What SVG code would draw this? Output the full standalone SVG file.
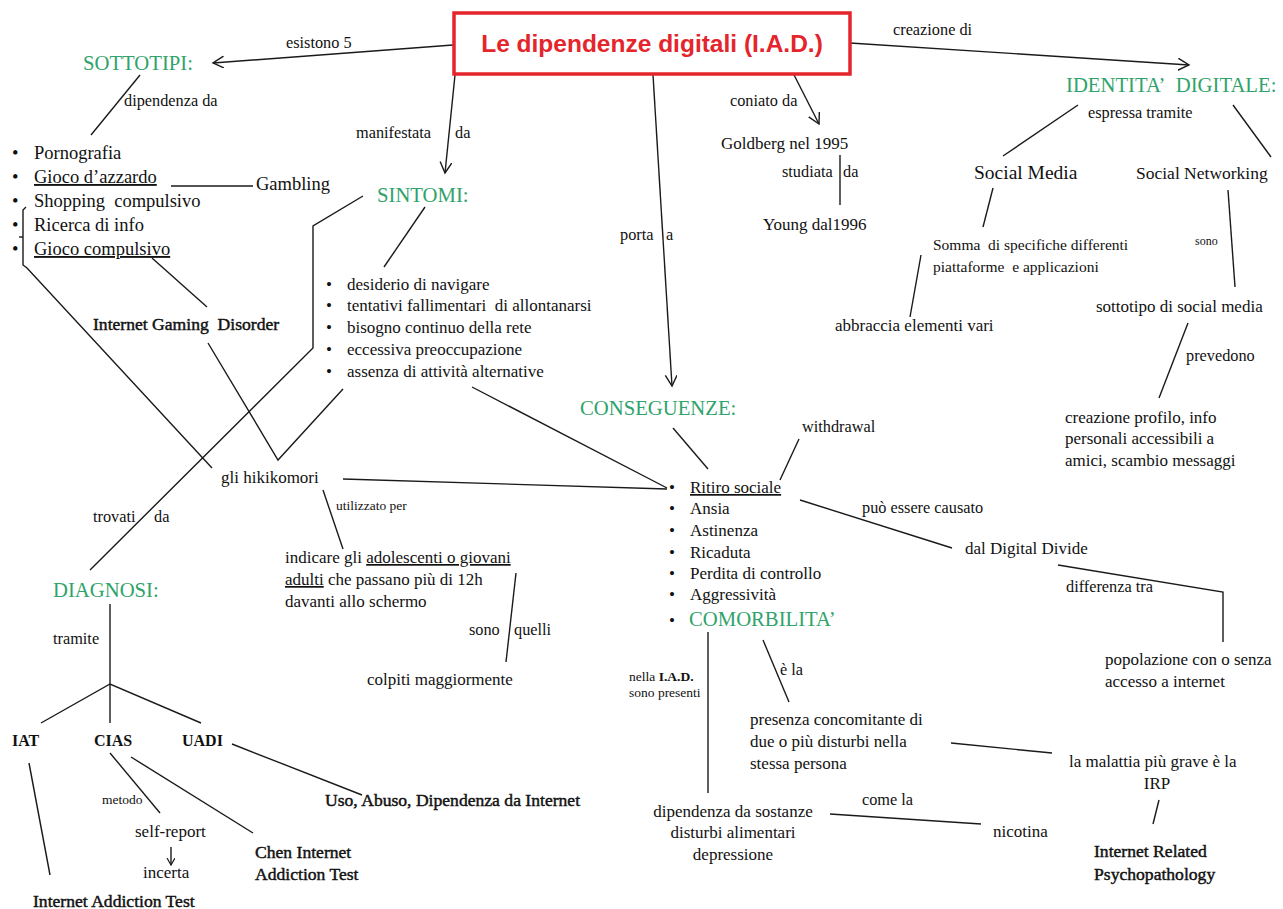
<svg xmlns="http://www.w3.org/2000/svg" width="1283" height="909" viewBox="0 0 1283 909">
<defs>
<style>
text{font-family:"Liberation Serif","Times New Roman",serif;fill:#111;}
.b{font-size:17px}
.st{font-size:18.5px}
.lb{font-size:16.3px}
.sm{font-size:13.5px}
.xs{font-size:12px}
.g{font-size:20.7px;fill:#2fa36b}
.bd{font-weight:bold;font-size:16px}
.md{font-size:17.6px;stroke:#111;stroke-width:0.45px}
.u{text-decoration:underline}
.ln{stroke:#1a1a1a;stroke-width:1.4;fill:none}
.title{font-family:"Liberation Sans",Arial,sans-serif;font-weight:bold;font-size:24.5px;fill:#e4252b}
</style>
<marker id="ah" markerUnits="userSpaceOnUse" markerWidth="14" markerHeight="14" refX="11" refY="6" orient="auto">
<path d="M0,0 L11,6 L0,12" fill="none" stroke="#1a1a1a" stroke-width="1.4"/>
</marker>
<marker id="ahs" markerUnits="userSpaceOnUse" markerWidth="10" markerHeight="10" refX="7" refY="4" orient="auto">
<path d="M0,0 L7,4 L0,8" fill="none" stroke="#1a1a1a" stroke-width="1.2"/>
</marker>
</defs>
<rect width="1283" height="909" fill="#fff"/>

<g id="connectors">
<path class="ln" d="M453,45 L213,63" marker-end="url(#ah)"/>
<path class="ln" d="M455,75 L445,173" marker-end="url(#ah)"/>
<path class="ln" d="M653,75 L672,386" marker-end="url(#ah)"/>
<path class="ln" d="M789,65 L819,124" marker-end="url(#ah)"/>
<path class="ln" d="M850,43 L1189,65" marker-end="url(#ah)"/>
<path class="ln" d="M140,75 L91,135"/>
<path class="ln" d="M171,186 L253,186"/>
<path class="ln" d="M26,207 L23,210 L23,265 L27,268 L212,468"/>
<path class="ln" d="M19,237 L23,237"/>
<path class="ln" d="M152,258 L207,307"/>
<path class="ln" d="M208,343 L278,460 L343,389"/>
<path class="ln" d="M363,196 L313,226 L313,348 L90,570"/>
<path class="ln" d="M425,207 L384,267"/>
<path class="ln" d="M472,387 L667,488"/>
<path class="ln" d="M343,479 L667,489"/>
<path class="ln" d="M323,490 L343,549"/>
<path class="ln" d="M516,573 L506,662"/>
<path class="ln" d="M110,604 L110,723"/>
<path class="ln" d="M41,723 L110,684 L201,723"/>
<path class="ln" d="M29,763 L50,875"/>
<path class="ln" d="M110,753 L160,813"/>
<path class="ln" d="M131,757 L253,833"/>
<path class="ln" d="M232,744 L362,795"/>
<path class="ln" d="M171,847 L171,865" marker-end="url(#ahs)"/>
<path class="ln" d="M840,155 L840,205"/>
<path class="ln" d="M1078,105 L1003,156"/>
<path class="ln" d="M1233,105 L1271,157"/>
<path class="ln" d="M993,188 L983,227"/>
<path class="ln" d="M921,255 L910,317"/>
<path class="ln" d="M1228,190 L1235,287"/>
<path class="ln" d="M1188,323 L1159,398"/>
<path class="ln" d="M673,428 L708,469"/>
<path class="ln" d="M799,439 L780,480"/>
<path class="ln" d="M800,500 L952,548"/>
<path class="ln" d="M1058,565 L1223,592 L1223,642"/>
<path class="ln" d="M708,632 L708,793"/>
<path class="ln" d="M763,640 L789,702"/>
<path class="ln" d="M951,743 L1052,753"/>
<path class="ln" d="M1159,800 L1153,824"/>
<path class="ln" d="M830,814 L981,824"/>
</g>

<g id="labels">
<text class="lb" x="286" y="48">esistono 5</text>
<text class="lb" x="124" y="106">dipendenza da</text>
<text class="lb" x="356" y="138">manifestata</text>
<text class="lb" x="455" y="138">da</text>
<text class="lb" x="620" y="240">porta</text>
<text class="lb" x="666" y="240">a</text>
<text class="lb" x="730" y="106">coniato da</text>
<text class="lb" x="782" y="177">studiata</text>
<text class="lb" x="843" y="177">da</text>
<text class="lb" x="893" y="35">creazione di</text>
<text class="lb" x="1088" y="118">espressa tramite</text>
<text class="xs" x="1195" y="245">sono</text>
<text class="lb" x="1186" y="361">prevedono</text>
<text class="lb" x="802" y="432">withdrawal</text>
<text class="lb" x="862" y="513">può essere causato</text>
<text class="lb" x="1066" y="592">differenza tra</text>
<text class="sm" x="336" y="510">utilizzato per</text>
<text class="lb" x="93" y="522">trovati</text>
<text class="lb" x="154" y="522">da</text>
<text class="lb" x="469" y="635">sono</text>
<text class="lb" x="514" y="635">quelli</text>
<text class="lb" x="53" y="644">tramite</text>
<text class="sm" x="102" y="804">metodo</text>
<text class="sm" x="629" y="681">nella <tspan font-weight="bold">I.A.D.</tspan></text>
<text class="sm" x="629" y="697">sono presenti</text>
<text class="lb" x="780" y="675">è la</text>
<text class="lb" x="862" y="805">come la</text>
</g>

<g id="title">
<rect x="454" y="13" width="396" height="61" fill="#fff" stroke="#e4252b" stroke-width="3.5"/>
<text class="title" x="652" y="52" text-anchor="middle">Le dipendenze digitali (I.A.D.)</text>
</g>

<g id="sottotipi">
<text class="g" x="83" y="70">SOTTOTIPI:</text>
</g>
<g id="sottotipi-list">
<text class="st" x="12" y="159">•</text>
<text class="st" x="34" y="159">Pornografia</text>
<text class="st" x="12" y="183">•</text>
<text class="st" x="34" y="183"><tspan class="u">Gioco d’azzardo</tspan></text>
<text class="st" x="12" y="207">•</text>
<text class="st" x="34" y="207">Shopping&#160; compulsivo</text>
<text class="st" x="12" y="231">•</text>
<text class="st" x="34" y="231">Ricerca di info</text>
<text class="st" x="12" y="255">•</text>
<text class="st" x="34" y="255"><tspan class="u">Gioco compulsivo</tspan></text>
</g>
<g id="gambling"><text class="st" x="256" y="190">Gambling</text></g>
<g id="igd"><text class="md" x="93" y="330">Internet Gaming&#160; Disorder</text></g>

<g id="sintomi"><text class="g" x="377" y="202">SINTOMI:</text></g>
<g id="sintomi-list">
<text class="b" x="326" y="290">•</text><text class="b" x="347" y="290">desiderio di navigare</text>
<text class="b" x="326" y="311">•</text><text class="b" x="347" y="311">tentativi fallimentari&#160; di allontanarsi</text>
<text class="b" x="326" y="333">•</text><text class="b" x="347" y="333">bisogno continuo della rete</text>
<text class="b" x="326" y="355">•</text><text class="b" x="347" y="355">eccessiva preoccupazione</text>
<text class="b" x="326" y="377">•</text><text class="b" x="347" y="377">assenza di attività alternative</text>
</g>

<g id="hikikomori"><text class="b" x="221" y="483">gli hikikomori</text></g>
<g id="indicare">
<text class="b" x="285" y="563">indicare gli <tspan class="u">adolescenti o giovani</tspan></text>
<text class="b" x="285" y="585"><tspan class="u">adulti</tspan> che passano più di 12h</text>
<text class="b" x="285" y="607">davanti allo schermo</text>
</g>
<g id="colpiti"><text class="b" x="367" y="685">colpiti maggiormente</text></g>

<g id="diagnosi"><text class="g" x="53" y="597">DIAGNOSI:</text></g>
<g id="iat"><text class="bd" x="12" y="746">IAT</text></g>
<g id="cias"><text class="bd" x="94" y="746">CIAS</text></g>
<g id="uadi"><text class="bd" x="182" y="746">UADI</text></g>
<g id="iat-full"><text class="md" x="33" y="907">Internet Addiction Test</text></g>
<g id="self-report"><text class="b" x="135" y="837">self-report</text></g>
<g id="incerta"><text class="b" x="143" y="878">incerta</text></g>
<g id="chen">
<text class="md" x="255" y="858">Chen Internet</text>
<text class="md" x="255" y="880">Addiction Test</text>
</g>
<g id="uso"><text class="md" x="325" y="806">Uso, Abuso, Dipendenza da Internet</text></g>

<g id="conseguenze"><text class="g" x="580" y="415">CONSEGUENZE:</text></g>
<g id="conseguenze-list">
<text class="b" x="669" y="493">•</text><text class="b" x="690" y="493"><tspan class="u">Ritiro sociale</tspan></text>
<text class="b" x="669" y="514">•</text><text class="b" x="690" y="514">Ansia</text>
<text class="b" x="669" y="536">•</text><text class="b" x="690" y="536">Astinenza</text>
<text class="b" x="669" y="558">•</text><text class="b" x="690" y="558">Ricaduta</text>
<text class="b" x="669" y="579">•</text><text class="b" x="690" y="579">Perdita di controllo</text>
<text class="b" x="669" y="600">•</text><text class="b" x="690" y="600">Aggressività</text>
<text class="b" x="669" y="626">•</text><text class="g" x="689" y="626">COMORBILITA’</text>
</g>
<g id="digital-divide"><text class="b" x="965" y="554">dal Digital Divide</text></g>
<g id="popolazione">
<text class="b" x="1105" y="665">popolazione con o senza</text>
<text class="b" x="1105" y="687">accesso a internet</text>
</g>
<g id="presenza">
<text class="b" x="750" y="725">presenza concomitante di</text>
<text class="b" x="750" y="747">due o più disturbi nella</text>
<text class="b" x="750" y="769">stessa persona</text>
</g>
<g id="malattia">
<text class="b" x="1069" y="767">la malattia più grave è la</text>
<text class="b" x="1157" y="789" text-anchor="middle">IRP</text>
</g>
<g id="irp"><text class="md" x="1094" y="857">Internet Related</text><text class="md" x="1094" y="880">Psychopathology</text></g>
<g id="dipendenza">
<text class="b" x="733" y="817" text-anchor="middle">dipendenza da sostanze</text>
<text class="b" x="733" y="838" text-anchor="middle">disturbi alimentari</text>
<text class="b" x="733" y="860" text-anchor="middle">depressione</text>
</g>
<g id="nicotina"><text class="b" x="993" y="837">nicotina</text></g>

<g id="goldberg"><text class="b" x="721" y="149">Goldberg nel 1995</text></g>
<g id="young"><text class="b" x="763" y="230">Young dal1996</text></g>

<g id="identita"><text class="g" x="1066" y="92">IDENTITA’&#160; DIGITALE:</text></g>
<g id="social-media"><text x="974" y="179" font-size="19.5px">Social Media</text></g>
<g id="social-networking"><text x="1136" y="179" font-size="17.5px">Social Networking</text></g>
<g id="somma">
<text x="933" y="250" font-size="15.5px">Somma&#160; di specifiche differenti</text>
<text x="933" y="272" font-size="15.5px">piattaforme&#160; e applicazioni</text>
</g>
<g id="abbraccia"><text class="b" x="835" y="331">abbraccia elementi vari</text></g>
<g id="sottotipo-sm"><text class="b" x="1096" y="312">sottotipo di social media</text></g>
<g id="creazione-profilo">
<text class="b" x="1065" y="423">creazione profilo, info</text>
<text class="b" x="1065" y="444">personali accessibili a</text>
<text class="b" x="1065" y="466">amici, scambio messaggi</text>
</g>
</svg>
